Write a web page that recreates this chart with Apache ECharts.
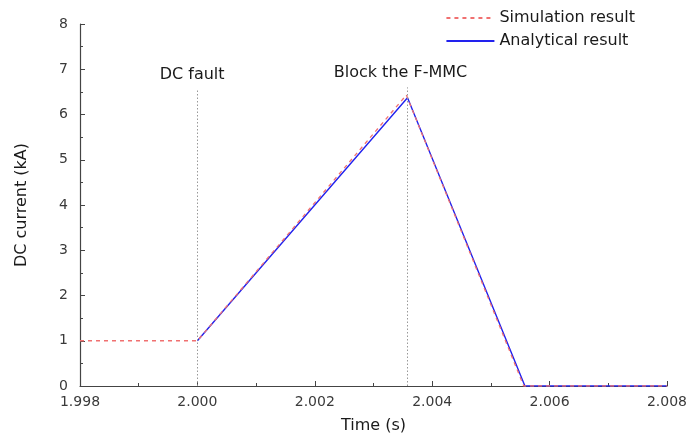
<!DOCTYPE html>
<html>
<head>
<meta charset="utf-8">
<script src="https://cdn.jsdelivr.net/npm/echarts@6/dist/echarts.min.js"></script>
<style>
  html, body { margin: 0; padding: 0; background: #fff; }
  #main { width: 690px; height: 444px; }
</style>
</head>
<body>
<div id="main"></div>
<script>
var chartDom = document.getElementById('main');
var myChart = echarts.init(chartDom);

// time (s) / current (kA)
var simTime = [1.998, 2.000, 2.00356, 2.00556, 2.008];
var simCurrent = [1, 1, 6.43, 0, 0];
var anaTime = [2.000, 2.00358, 2.00558, 2.008];
var anaCurrent = [1, 6.37, 0, 0];

// event markers: time, top of dotted line
var eventTimes = [2.000, 2.00358];
var eventTops = [6.55, 6.6];
// annotation text and where it sits (data coords)
var noteNames = ['DC fault', 'Block the F-MMC'];
var noteTime = [1.99991, 2.00346];
var noteCurrent = [6.87, 6.92];

function pairs(xs, ys) {
  return xs.map(function (x, i) { return [x, ys[i]]; });
}

var font = 'DejaVu Sans, Liberation Sans, Arial, sans-serif';

var markData = eventTimes.map(function (t, i) {
  return [{ coord: [t, 0] }, { coord: [t, eventTops[i]] }];
});

var option = {
  animation: false,
  grid: { left: 80, right: 22, top: 24, bottom: 58 },
  legend: {
    orient: 'vertical',
    right: 50,
    top: 5,
    itemGap: 7,
    itemWidth: 48,
    itemHeight: 16,
    itemStyle: { opacity: 0 },
    textStyle: { fontFamily: font, fontSize: 16, color: '#1a1a1a' },
    data: ['Simulation result', 'Analytical result']
  },
  xAxis: {
    type: 'value',
    min: 1.998,
    max: 2.008,
    interval: 0.002,
    name: 'Time (s)',
    nameLocation: 'middle',
    nameGap: 32,
    nameTextStyle: { fontFamily: font, fontSize: 16, color: '#1a1a1a' },
    axisLine: { lineStyle: { color: '#444', width: 1.2 } },
    axisTick: { show: true, inside: true, length: 5, lineStyle: { color: '#444' } },
    minorTick: { show: true, splitNumber: 2, length: 3, lineStyle: { color: '#444' } },
    axisLabel: {
      fontFamily: font, fontSize: 14, color: '#3a3a3a', margin: 9,
      formatter: function (v) { return v.toFixed(3); }
    },
    splitLine: { show: false }
  },
  yAxis: {
    type: 'value',
    min: 0,
    max: 8,
    interval: 1,
    name: 'DC current (kA)',
    nameLocation: 'middle',
    nameGap: 50,
    nameTextStyle: { fontFamily: font, fontSize: 16, color: '#1a1a1a' },
    axisLine: { show: true, lineStyle: { color: '#444', width: 1.2 } },
    axisTick: { show: true, inside: true, length: 5, lineStyle: { color: '#444' } },
    minorTick: { show: true, splitNumber: 2, length: 3, lineStyle: { color: '#444' } },
    axisLabel: { fontFamily: font, fontSize: 14, color: '#3a3a3a', margin: 12 },
    splitLine: { show: false }
  },
  series: [
    {
      name: 'Simulation result',
      type: 'line',
      data: pairs(simTime, simCurrent),
      symbol: 'none',
      lineStyle: { color: '#f07070', width: 1.3, type: [4, 4] },
      itemStyle: { color: '#f07070' },
      z: 3,
      markLine: {
        silent: true,
        symbol: 'none',
        lineStyle: { color: '#999', type: [1.5, 2], width: 1 },
        label: { show: false },
        data: markData
      }
    },
    {
      name: 'Analytical result',
      type: 'line',
      data: pairs(anaTime, anaCurrent),
      symbol: 'none',
      lineStyle: { color: '#2222ee', width: 1.4 },
      itemStyle: { color: '#2222ee' },
      z: 2
    },
    {
      type: 'scatter',
      data: noteTime.map(function (t, i) {
        return { value: [t, noteCurrent[i]], name: noteNames[i] };
      }),
      symbolSize: 0,
      silent: true,
      itemStyle: { opacity: 1 },
      label: {
        show: true,
        position: 'inside',
        formatter: '{b}',
        fontFamily: font,
        fontSize: 16,
        color: '#1a1a1a'
      }
    }
  ]
};

option && myChart.setOption(option);
</script>
</body>
</html>
